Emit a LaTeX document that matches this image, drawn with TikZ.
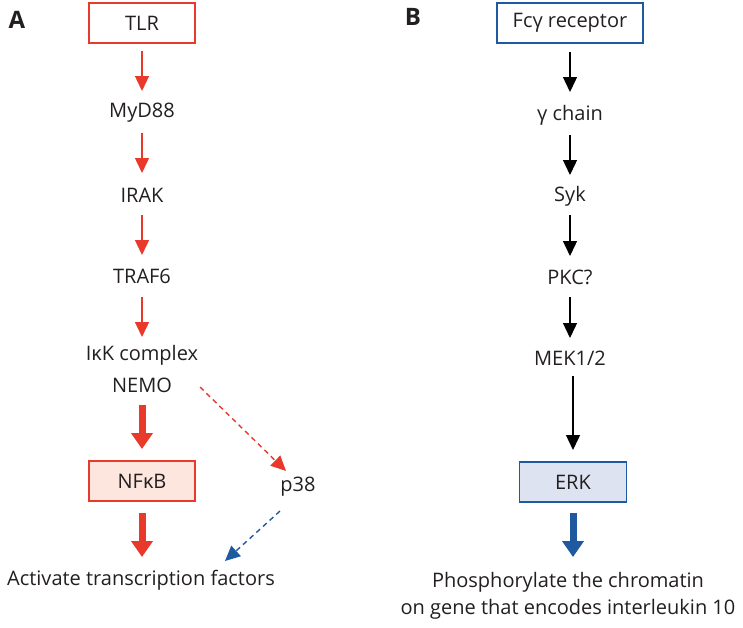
\documentclass[tikz,border=0pt]{standalone}
\usepackage{fontspec}
\setmainfont{Open Sans}
\usetikzlibrary{arrows.meta}
\definecolor{lred}{HTML}{E8392A}
\definecolor{lblue}{HTML}{1F5AA0}
\definecolor{pinkfill}{HTML}{FCE6DE}
\definecolor{bluefill}{HTML}{DEE3F1}
\definecolor{txt}{HTML}{231F20}
\tikzset{
  lbl/.style={font=\fontsize{20}{27}\selectfont, text=txt, inner sep=0pt},
  panel/.style={font=\fontsize{24}{26}\selectfont\bfseries, text=txt, inner sep=0pt},
  redbox/.style={lbl, draw=lred, line width=1.3pt, minimum width=106pt, minimum height=40pt},
  bluebox/.style={lbl, draw=lblue, line width=1.3pt, minimum height=40pt},
  thinred/.style={draw=lred, line width=1.4pt, -{Triangle[width=14pt,length=15pt]}},
  thinblk/.style={draw=black, line width=1.4pt, -{Triangle[width=14pt,length=15pt]}},
  thickred/.style={draw=lred, line width=7pt, -{Triangle[width=21pt,length=16pt]}},
  thickblue/.style={draw=lblue, line width=7pt, -{Triangle[width=21pt,length=16pt]}},
  dashred/.style={draw=lred, line width=1.4pt, dash pattern=on 5pt off 4pt, -{Triangle[width=14pt,length=15pt]}},
  dashblue/.style={draw=lblue, line width=1.4pt, dash pattern=on 5pt off 4pt, -{Triangle[width=14pt,length=15pt]}},
}
\begin{document}
\begin{tikzpicture}[x=1pt,y=-1pt]
\useasboundingbox (0,0) rectangle (743,627);
% Panel A
\node[panel] (A) at (17,20) {A};
\node[redbox] (tlr) at (142,23) {TLR};
\node[lbl] (myd) at (142,113) {MyD88};
\node[lbl] (irak) at (142,195) {IRAK};
\node[lbl] (traf) at (142,276) {TRAF6};
\node[lbl] (ikk) at (142,355) {IκK complex};
\node[lbl] (nemo) at (142,385) {NEMO};
\node[redbox, fill=pinkfill] (nfkb) at (142,481) {NFκB};
\node[lbl] (act) at (141,580) {Activate transcription factors};
\node[lbl] (p38) at (298,487) {p38};
\coordinate (t1) at (142,51); \coordinate (h1) at (142,91);
\coordinate (t2) at (142,133); \coordinate (h2) at (142,173);
\coordinate (t3) at (142,215); \coordinate (h3) at (142,255);
\coordinate (t4) at (142,297); \coordinate (h4) at (142,337);
\coordinate (t5) at (142,405); \coordinate (h5) at (142,449);
\coordinate (t6) at (142,513); \coordinate (h6) at (142,557);
\draw[thinred] (t1) -- (h1);
\draw[thinred] (t2) -- (h2);
\draw[thinred] (t3) -- (h3);
\draw[thinred] (t4) -- (h4);
\draw[thickred] (t5) -- (h5);
\draw[thickred] (t6) -- (h6);
\coordinate (d1) at (200,387); \coordinate (d2) at (286,471);
\draw[dashred] (d1) -- (d2);
\coordinate (e1) at (280,511); \coordinate (e2) at (225,561);
\draw[dashblue] (e1) -- (e2);
% Panel B
\node[panel] (B) at (413,17) {B};
\node[bluebox, minimum width=146pt] (fcg) at (570,23) {Fcγ receptor};
\node[lbl] (gch) at (570,115) {γ chain};
\node[lbl] (syk) at (570,196) {Syk};
\node[lbl] (pkc) at (570,277) {PKC?};
\node[lbl] (mek) at (570,358) {MEK1/2};
\node[bluebox, fill=bluefill, minimum width=107pt] (erk) at (573,482) {ERK};
\node[lbl, align=center] (phos) at (568,596) {Phosphorylate the chromatin\\on gene that encodes interleukin 10};
\coordinate (u1) at (570,52); \coordinate (v1) at (570,92);
\coordinate (u2) at (570,135); \coordinate (v2) at (570,175);
\coordinate (u3) at (570,215); \coordinate (v3) at (570,256);
\coordinate (u4) at (570,297); \coordinate (v4) at (570,338);
\coordinate (u5) at (573,376); \coordinate (v5) at (573,450);
\coordinate (u6) at (573,513); \coordinate (v6) at (573,557);
\draw[thinblk] (u1) -- (v1);
\draw[thinblk] (u2) -- (v2);
\draw[thinblk] (u3) -- (v3);
\draw[thinblk] (u4) -- (v4);
\draw[thinblk] (u5) -- (v5);
\draw[thickblue] (u6) -- (v6);
\end{tikzpicture}
\end{document}
